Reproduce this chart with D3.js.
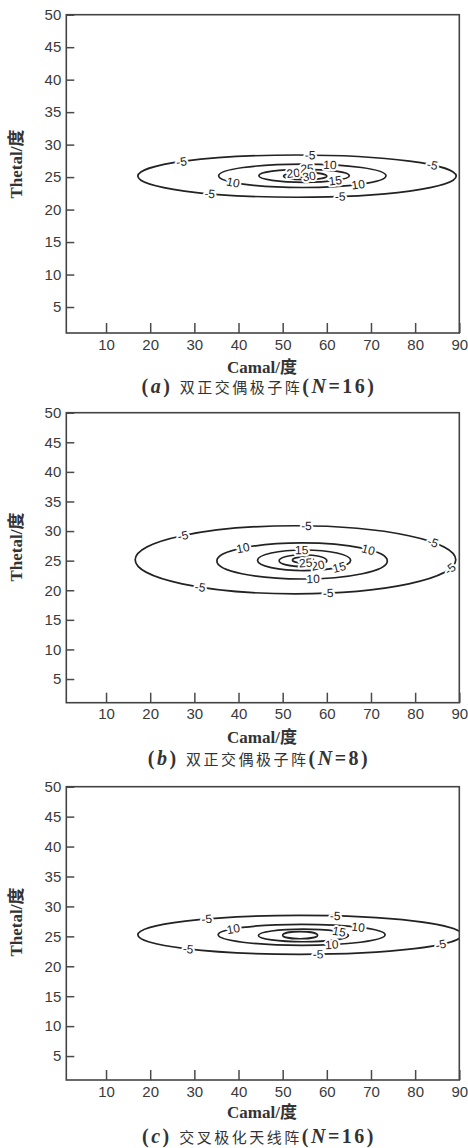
<!DOCTYPE html>
<html>
<head>
<meta charset="utf-8">
<script src="https://cdn.jsdelivr.net/npm/d3@7"></script>
<style>
  body { margin: 0; background: #fff; }
  svg { display: block; }
  .tick text { font-family: "Liberation Sans", Arial, sans-serif; font-size: 15px; fill: #3a3a3a; }
  .tick line { stroke: #4a4a4a; stroke-width: 1.5; }
  .clabel { font-family: "Liberation Sans", Arial, sans-serif; font-size: 12px; fill: #222;
            stroke: #fff; stroke-width: 4px; paint-order: stroke; stroke-linejoin: round;
            text-rendering: geometricPrecision; }
  .title { font-family: "Liberation Serif", "Times New Roman", "Noto Sans CJK SC", serif;
           font-weight: bold; font-size: 17px; fill: #333; }
  .cap { font-family: "Liberation Serif", "Times New Roman", serif; font-weight: bold;
         font-size: 20px; fill: #333; letter-spacing: 2.5px; }
  .cap .cjk { font-family: "Noto Sans CJK SC", sans-serif; font-weight: normal; font-size: 15px; }
</style>
</head>
<body>
<div class="chart"></div>
<script>
const xTicks = [10, 20, 30, 40, 50, 60, 70, 80, 90];
const yTicks = [5, 10, 15, 20, 25, 30, 35, 40, 45, 50];

// (a) 双正交偶极子阵 N=16 : contour levels and their extents (Camal / Thetal, degrees)
const aLevels = [-5, 10, 15, 20, 25, 30];
const aXmin = [17.2, 35.5, 44.6, 50.2, 53.6, 54.6];
const aXmax = [89.3, 73.4, 65.1, 60.0, 57.6, 57.0];
const aYmin = [21.9, 23.4, 24.2, 24.6, 24.8, 25.1];
const aYmax = [28.4, 27.0, 26.2, 25.7, 26.3, 26.7];
const aLabelLevel = [-5, -5, -5, -5, -5, 10, 10, 10, 15, 20, 25, 30];
const aLabelX = [27.1, 56.2, 83.9, 33.5, 63.0, 60.7, 38.8, 67.1, 61.9, 52.4, 55.5, 56.0];
const aLabelSide = ['t', 't', 't', 'b', 'b', 't', 'b', 'b', 'b', 't', 't', 'b'];

// (b) 双正交偶极子阵 N=8
const bLevels = [-5, 10, 15, 20, 25];
const bXmin = [16.6, 35.1, 44.3, 49.2, 52.2];
const bXmax = [89.2, 73.7, 65.4, 60.0, 57.0];
const bYmin = [19.4, 21.9, 23.3, 24.0, 24.6];
const bYmax = [30.9, 28.0, 26.8, 26.0, 25.6];
const bLabelLevel = [-5, -5, -5, -5, -5, -5, 10, 10, 10, 15, 15, 20, 25];
const bLabelX = [27.4, 55.4, 84.0, 87.9, 31.3, 60.3, 41.0, 69.4, 56.9, 54.3, 62.8, 58.0, 55.2];
const bLabelSide = ['t', 't', 't', 'b', 'b', 'b', 't', 't', 'b', 't', 'b', 'b', 'b'];

// (c) 交叉极化天线阵 N=16
const cLevels = [-5, 10, 15, 20];
const cXmin = [17.2, 35.4, 44.5, 50.0];
const cXmax = [90.6, 73.2, 64.9, 57.9];
const cYmin = [22.0, 23.5, 24.1, 24.6];
const cYmax = [28.5, 27.0, 26.2, 25.8];
const cLabelLevel = [-5, -5, -5, -5, -5, 10, 10, 10, 15];
const cLabelX = [32.8, 61.9, 28.6, 58.0, 85.8, 38.8, 67.1, 61.1, 62.8];
const cLabelSide = ['t', 't', 'b', 'b', 'b', 't', 't', 'b', 't'];

const panels = [
  { id: 'a', n: '16', name: '双正交偶极子阵', top: 14.7, bottom: 333, levels: aLevels, xmin: aXmin, xmax: aXmax, ymin: aYmin, ymax: aYmax,
    lLevel: aLabelLevel, lX: aLabelX, lSide: aLabelSide, xTitle: 367, yTitle: 164, cap: 387 },
  { id: 'b', n: '8', name: '双正交偶极子阵', top: 412.7, bottom: 702.7, levels: bLevels, xmin: bXmin, xmax: bXmax, ymin: bYmin, ymax: bYmax,
    lLevel: bLabelLevel, lX: bLabelX, lSide: bLabelSide, xTitle: 737, yTitle: 547, cap: 759 },
  { id: 'c', n: '16', name: '交叉极化天线阵', top: 786.7, bottom: 1080, levels: cLevels, xmin: cXmin, xmax: cXmax, ymin: cYmin, ymax: cYmax,
    lLevel: cLabelLevel, lX: cLabelX, lSide: cLabelSide, xTitle: 1112, yTitle: 922, cap: 1137 }
];

const w = 468;
const h = 1148;
const left = 66.3;
const right = 459.3;

const svg = d3.select('.chart')
  .append('svg')
  .attr('width', w)
  .attr('height', h)
  .attr('viewBox', `0 0 ${w} ${h}`);

const x = d3.scaleLinear().domain([1, 90]).range([left, right]);

panels.forEach(p => {
  const y = d3.scaleLinear().domain([1, 50]).range([p.bottom, p.top]);
  const g = svg.append('g').attr('class', `panel-${p.id}`);

  g.append('clipPath')
    .attr('id', `clip-${p.id}`)
    .append('rect')
    .attr('x', left)
    .attr('y', p.top)
    .attr('width', right - left)
    .attr('height', p.bottom - p.top);

  const ellipses = p.levels.map((lv, i) => {
    const x0 = x(p.xmin[i]), x1 = x(p.xmax[i]);
    const y0 = y(p.ymin[i]), y1 = y(p.ymax[i]);
    return { level: lv, cx: (x0 + x1) / 2, cy: (y0 + y1) / 2, rx: (x1 - x0) / 2, ry: (y0 - y1) / 2 };
  });

  const plot = g.append('g').attr('clip-path', `url(#clip-${p.id})`);

  plot.selectAll('ellipse')
    .data(ellipses)
    .enter()
    .append('ellipse')
    .attr('cx', d => d.cx)
    .attr('cy', d => d.cy)
    .attr('rx', d => d.rx)
    .attr('ry', d => d.ry)
    .attr('fill', 'none')
    .attr('stroke', '#222')
    .attr('stroke-width', 1.7);

  // inline labels sitting on the contour, rotated along it
  const labels = p.lLevel.map((lv, i) => {
    const e = ellipses[p.levels.indexOf(lv)];
    const px = x(p.lX[i]);
    const c = Math.max(-1, Math.min(1, (px - e.cx) / e.rx));
    const s = Math.sqrt(1 - c * c);
    const sign = p.lSide[i] === 't' ? -1 : 1;
    const py = e.cy + sign * e.ry * s;
    let a = Math.atan2(sign * e.ry * c, -e.rx * s) * 180 / Math.PI;
    if (a > 90) a -= 180;
    if (a < -90) a += 180;
    return { text: String(lv), x: px, y: py, a: a };
  });

  plot.selectAll('text.clabel')
    .data(labels)
    .enter()
    .append('text')
    .attr('class', 'clabel')
    .attr('transform', d => `translate(${d.x},${d.y}) rotate(${d.a})`)
    .attr('text-anchor', 'middle')
    .attr('dy', '0.35em')
    .text(d => d.text);

  g.append('g')
    .attr('transform', `translate(0,${p.bottom})`)
    .call(d3.axisBottom(x).tickValues(xTicks).tickSizeInner(-10).tickSizeOuter(0).tickPadding(6))
    .call(a => a.select('.domain').remove());

  g.append('g')
    .attr('transform', `translate(${left},0)`)
    .call(d3.axisLeft(y).tickValues(yTicks).tickSizeInner(-8).tickSizeOuter(0).tickPadding(5))
    .call(a => a.select('.domain').remove());

  g.append('rect')
    .attr('x', left)
    .attr('y', p.top)
    .attr('width', right - left)
    .attr('height', p.bottom - p.top)
    .attr('fill', 'none')
    .attr('stroke', '#444')
    .attr('stroke-width', 1.6);

  g.append('text')
    .attr('class', 'title')
    .attr('x', 262)
    .attr('y', p.xTitle + 6)
    .attr('text-anchor', 'middle')
    .text('Camal/度');

  g.append('text')
    .attr('class', 'title')
    .attr('transform', `translate(22,${p.yTitle}) rotate(-90)`)
    .attr('text-anchor', 'middle')
    .text('Thetal/度');

  const cap = g.append('text')
    .attr('class', 'cap')
    .attr('x', 259)
    .attr('y', p.cap + 6)
    .attr('text-anchor', 'middle');
  cap.append('tspan').text('(');
  cap.append('tspan').attr('font-style', 'italic').text(p.id);
  cap.append('tspan').text(') ');
  cap.append('tspan').attr('class', 'cjk').text(p.name);
  cap.append('tspan').text('(');
  cap.append('tspan').attr('font-style', 'italic').text('N');
  cap.append('tspan').text(`=${p.n})`);
});
</script>
</body>
</html>
